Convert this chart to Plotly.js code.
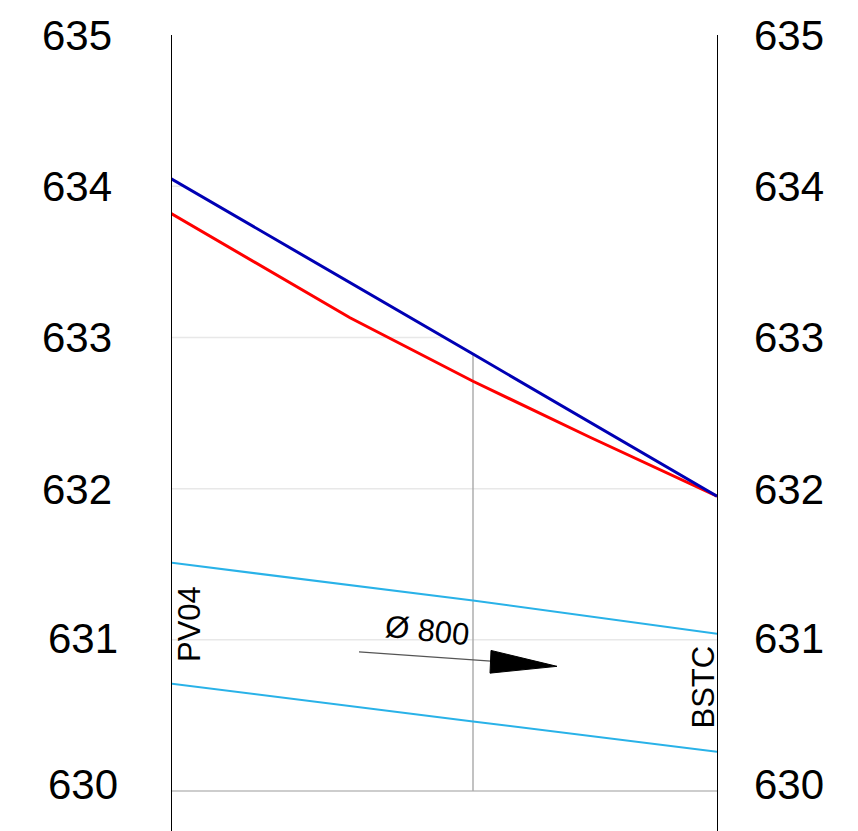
<!DOCTYPE html>
<html><head><meta charset="utf-8">
<script src="https://cdn.plot.ly/plotly-3.0.1.min.js"></script>
<style>html,body{margin:0;padding:0;background:#fff}</style></head>
<body><div id="chart" style="width:858px;height:831px"></div>
<script>
// Distance along the section (0 = PV04, 546 = BSTC); elevations in metres
const redX = [0, 179, 302, 419, 546];
const redY = [633.82, 633.13, 632.71, 632.34, 631.95];
const blueX = [0, 302, 546];
const blueY = [634.05, 632.89, 631.95];
const pipeX = [0, 302, 546];
const pipeTopY = [631.51, 631.26, 631.04];
const pipeBottomY = [630.71, 630.46, 630.26];
const stationX = [302, 302];
const stationY = [630, 632.89];
const baseX = [0, 546];
const baseY = [630, 630];
const arrowShaftX = [188, 320];
const arrowShaftY = [630.92, 630.86];
const arrowHeadX = [320, 386, 319, 320];
const arrowHeadY = [630.93, 630.825, 630.78, 630.93];
const elevationTicks = [630, 631, 632, 633, 634, 635];
const gridLevels = [631, 632, 633, 634];
const gridEndX = [546, 529, 274, 13];
const pipeLabel = 'Ø 800';
const startLabel = 'PV04';
const endLabel = 'BSTC';

const font = 'Liberation Sans, Arial, sans-serif';
const line = (x, y, color, width) => ({x, y, mode: 'lines', hoverinfo: 'skip', line: {color, width, simplify: false}});

const traces = [
  ...gridLevels.map((v, i) => line([0, gridEndX[i]], [v, v], '#e8e8e8', 1.5)),
  line(baseX, baseY, '#bdbdbd', 1.5),
  line(stationX, stationY, '#a8a8a8', 1.4),
  line(pipeX, pipeTopY, '#29b2e8', 2),
  line(pipeX, pipeBottomY, '#29b2e8', 2),
  line(redX, redY, '#ff0000', 3),
  line(blueX, blueY, '#0000b4', 3),
  line(arrowShaftX, arrowShaftY, '#555555', 1.2),
  {x: arrowHeadX, y: arrowHeadY, mode: 'lines', fill: 'toself', fillcolor: '#000', hoverinfo: 'skip', line: {color: '#000', width: 1}}
];

const labelYShift = {630: 7, 631: 1, 632: -1, 633: 0, 634: 0, 635: 0};

const tickLabel = (v, side) => {
  const shiftLeft = v <= 631 ? 6 : 0;
  return {
    xref: 'paper', yref: 'y', x: side === 'left' ? 0 : 1, y: v,
    text: String(v), showarrow: false,
    xanchor: side === 'left' ? 'right' : 'left', yanchor: 'middle',
    xshift: side === 'left' ? -58 + shiftLeft : 35,
    yshift: labelYShift[v],
    font: {family: font, size: 42, color: '#000'}
  };
};

const annotations = [
  ...elevationTicks.map(v => tickLabel(v, 'left')),
  ...elevationTicks.map(v => tickLabel(v, 'right')),
  {x: 256, y: 631.06, text: pipeLabel, showarrow: false, textangle: 6, font: {family: font, size: 31, color: '#000'}},
  {x: 19, y: 631.105, text: startLabel, showarrow: false, textangle: -90, font: {family: font, size: 31, color: '#000'}},
  {x: 532, y: 630.685, text: endLabel, showarrow: false, textangle: -90, font: {family: font, size: 31, color: '#000'}}
];

const layout = {
  width: 858, height: 831,
  margin: {l: 172, r: 141, t: 35, b: 0, pad: 0},
  paper_bgcolor: '#fff', plot_bgcolor: '#fff',
  showlegend: false,
  xaxis: {range: [1, 546], showgrid: false, zeroline: false, showticklabels: false, ticks: '', showline: false},
  yaxis: {range: [629.736, 635], showticklabels: false, ticks: '', showgrid: false, zeroline: false,
          showline: true, mirror: true, linecolor: '#000', linewidth: 1},
  annotations
};
Plotly.newPlot('chart', traces, layout, {displayModeBar: false, staticPlot: true});
</script></body></html>
